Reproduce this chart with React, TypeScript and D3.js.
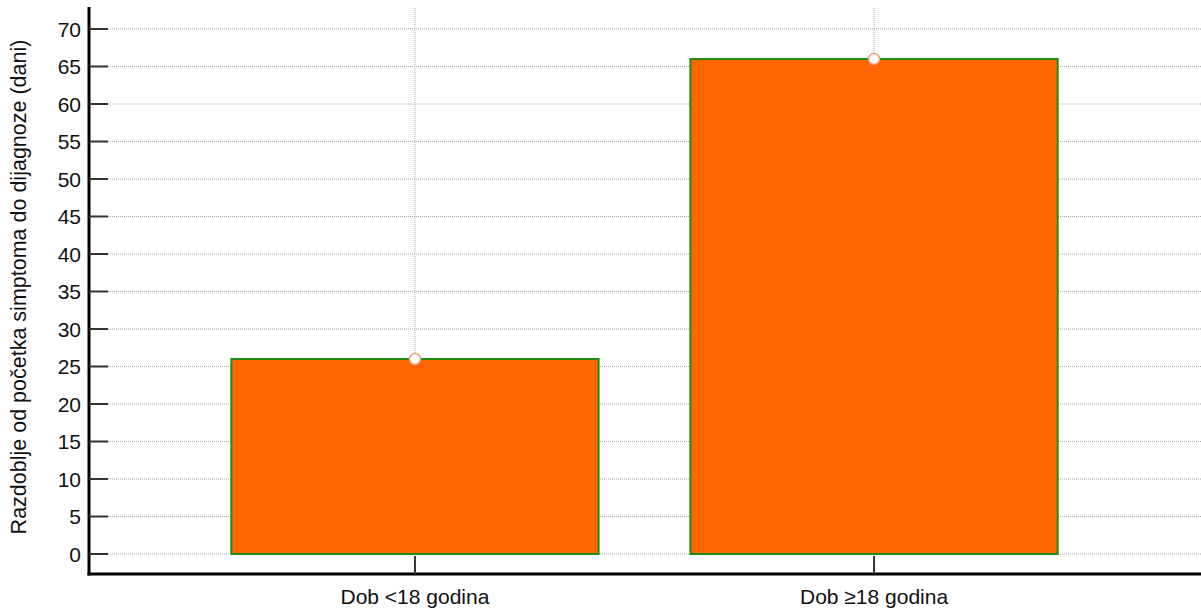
import { useEffect, useRef } from "react";
import * as d3 from "d3";

const categories = ["Dob <18 godina", "Dob \u226518 godina"];
const values = [26, 66];
const yTicks = [0, 5, 10, 15, 20, 25, 30, 35, 40, 45, 50, 55, 60, 65, 70];
const yLabel = "Razdoblje od početka simptoma do dijagnoze (dani)";

export default function App() {
  const svgRef = useRef<SVGSVGElement>(null);

  useEffect(() => {
    if (!svgRef.current) return;
    const width = 1201;
    const height = 612;
    const left = 89;
    const bottom = 574;
    const font = "Liberation Sans, Arial, sans-serif";

    const svg = d3.select(svgRef.current);
    svg.selectAll("*").remove();

    const x = d3
      .scaleBand()
      .domain(categories)
      .range([left, 1200])
      .paddingInner(0.2)
      .paddingOuter(0.31);

    const y = d3.scaleLinear().domain([0, 70]).range([554, 29]);

    // horizontal grid
    svg
      .append("g")
      .selectAll("line")
      .data(yTicks)
      .join("line")
      .attr("x1", left + 19)
      .attr("x2", width)
      .attr("y1", (d) => y(d))
      .attr("y2", (d) => y(d))
      .attr("stroke", "#aaa")
      .attr("stroke-width", 1)
      .attr("stroke-dasharray", "1,1");

    // vertical grid at category centres
    svg
      .append("g")
      .selectAll("line")
      .data(categories)
      .join("line")
      .attr("x1", (d) => (x(d) || 0) + x.bandwidth() / 2)
      .attr("x2", (d) => (x(d) || 0) + x.bandwidth() / 2)
      .attr("y1", 8)
      .attr("y2", bottom)
      .attr("stroke", "#aaa")
      .attr("stroke-width", 1)
      .attr("stroke-dasharray", "1,1");

    // bars
    svg
      .append("g")
      .selectAll("rect")
      .data(values)
      .join("rect")
      .attr("x", (_, i) => x(categories[i]) || 0)
      .attr("y", (d) => y(d))
      .attr("width", x.bandwidth())
      .attr("height", (d) => y(0) - y(d))
      .attr("fill", "#ff6600")
      .attr("stroke", "#1e8c14")
      .attr("stroke-width", 2);

    // mean markers
    svg
      .append("g")
      .selectAll("circle")
      .data(values)
      .join("circle")
      .attr("cx", (_, i) => (x(categories[i]) || 0) + x.bandwidth() / 2)
      .attr("cy", (d) => y(d))
      .attr("r", 5.5)
      .attr("fill", "#fff")
      .attr("stroke", "#f0a080")
      .attr("stroke-width", 1.5);

    // y axis
    svg
      .append("line")
      .attr("x1", left)
      .attr("x2", left)
      .attr("y1", 7)
      .attr("y2", bottom + 1.5)
      .attr("stroke", "#000")
      .attr("stroke-width", 3);

    svg
      .append("g")
      .selectAll("line")
      .data(yTicks)
      .join("line")
      .attr("x1", left)
      .attr("x2", left + 19)
      .attr("y1", (d) => y(d))
      .attr("y2", (d) => y(d))
      .attr("stroke", "#333")
      .attr("stroke-width", 2);

    svg
      .append("g")
      .selectAll("text")
      .data(yTicks)
      .join("text")
      .attr("x", 81)
      .attr("y", (d) => y(d))
      .attr("dy", "0.36em")
      .attr("text-anchor", "end")
      .attr("font-family", font)
      .attr("font-size", 21)
      .attr("fill", "#111")
      .text((d) => d);

    // x axis
    svg
      .append("line")
      .attr("x1", left - 1.5)
      .attr("x2", width)
      .attr("y1", bottom)
      .attr("y2", bottom)
      .attr("stroke", "#000")
      .attr("stroke-width", 3);

    svg
      .append("g")
      .selectAll("line")
      .data(categories)
      .join("line")
      .attr("x1", (d) => (x(d) || 0) + x.bandwidth() / 2)
      .attr("x2", (d) => (x(d) || 0) + x.bandwidth() / 2)
      .attr("y1", 556)
      .attr("y2", bottom)
      .attr("stroke", "#333")
      .attr("stroke-width", 2);

    svg
      .append("g")
      .selectAll("text")
      .data(categories)
      .join("text")
      .attr("x", (d) => (x(d) || 0) + x.bandwidth() / 2)
      .attr("y", 604)
      .attr("text-anchor", "middle")
      .attr("font-family", font)
      .attr("font-size", 21)
      .attr("fill", "#111")
      .text((d) => d);

    svg
      .append("text")
      .attr("transform", `translate(26,${287}) rotate(-90)`)
      .attr("text-anchor", "middle")
      .attr("font-family", font)
      .attr("font-size", 21.5)
      .attr("fill", "#111")
      .text(yLabel);
  }, []);

  return (
    <svg
      ref={svgRef}
      width={1201}
      height={612}
      style={{ position: "absolute", left: 0, top: 0, background: "#fff" }}
    ></svg>
  );
}
